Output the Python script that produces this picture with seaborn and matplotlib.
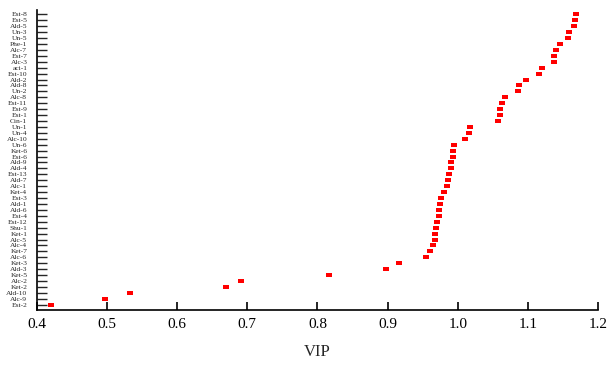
import pandas as pd
import numpy as np
import matplotlib
matplotlib.use('Agg')
import matplotlib.pyplot as plt
import seaborn as sns
from matplotlib.path import Path

# compounds, top to bottom
compounds = ['Est-8', 'Est-5', 'Ald-5', 'Un-3', 'Un-5', 'Phe-1', 'Alc-7', 'Est-7', 'Alc-3', 'aci-1',
             'Est-10', 'Ald-2', 'Ald-8', 'Un-2', 'Alc-8', 'Est-11', 'Est-9', 'Est-1', 'Cin-1', 'Un-1',
             'Un-4', 'Alc-10', 'Un-6', 'Ket-6', 'Est-6', 'Ald-9', 'Ald-4', 'Est-13', 'Ald-7', 'Alc-1',
             'Ket-4', 'Est-3', 'Ald-1', 'Ald-6', 'Est-4', 'Est-12', 'Shu-1', 'Ket-1', 'Alc-5', 'Alc-4',
             'Ket-7', 'Alc-6', 'Ket-3', 'Ald-3', 'Ket-5', 'Alc-2', 'Ket-2', 'Ald-10', 'Alc-9', 'Est-2']

vip = [1.169, 1.168, 1.166, 1.159, 1.158, 1.146, 1.140, 1.138, 1.137, 1.120,
       1.116, 1.097, 1.087, 1.086, 1.067, 1.063, 1.061, 1.060, 1.058, 1.017,
       1.016, 1.010, 0.995, 0.994, 0.993, 0.991, 0.990, 0.987, 0.986, 0.985,
       0.980, 0.976, 0.975, 0.974, 0.973, 0.970, 0.969, 0.968, 0.967, 0.965,
       0.960, 0.955, 0.916, 0.898, 0.817, 0.691, 0.670, 0.533, 0.497, 0.420]

df = pd.DataFrame({'Compound': compounds, 'VIP': vip})

sns.set_style('ticks')
plt.rcParams['font.family'] = ['Liberation Serif', 'DejaVu Serif']

fig = plt.figure(figsize=(6.11, 3.70), dpi=100)
ax = fig.add_axes([0.0606, 0.162, 0.918, 0.811])

# short flat dash marker
dash = Path([(-3.0, -1.6), (3.0, -1.6), (3.0, 1.6), (-3.0, 1.6), (-3.0, -1.6)],
            [Path.MOVETO, Path.LINETO, Path.LINETO, Path.LINETO, Path.CLOSEPOLY])

sns.stripplot(data=df, x='VIP', y='Compound', order=compounds, jitter=False,
              color='#ff0000', marker=dash, size=4.6, linewidth=0, ax=ax)

ax.set_xlim(0.4, 1.2)
ax.set_ylim(49.9, -0.73)
ax.set_xticks(np.arange(0.4, 1.21, 0.1))
ax.set_xticklabels(['%.1f' % v for v in np.arange(0.4, 1.21, 0.1)], fontsize=11)
ax.set_ylabel('')
ax.set_xlabel('VIP', fontsize=12, labelpad=9)

ax.tick_params(axis='x', direction='in', length=6, width=1.2, pad=6, colors='black')
ax.tick_params(axis='y', direction='in', length=7, width=1.0, pad=7)
for lab in ax.get_yticklabels():
    lab.set_fontsize(5.4)

for s in ['top', 'right']:
    ax.spines[s].set_visible(False)
for s in ['left', 'bottom']:
    ax.spines[s].set_linewidth(1.2)
    ax.spines[s].set_color('black')

fig.savefig('out.png', dpi=100)
